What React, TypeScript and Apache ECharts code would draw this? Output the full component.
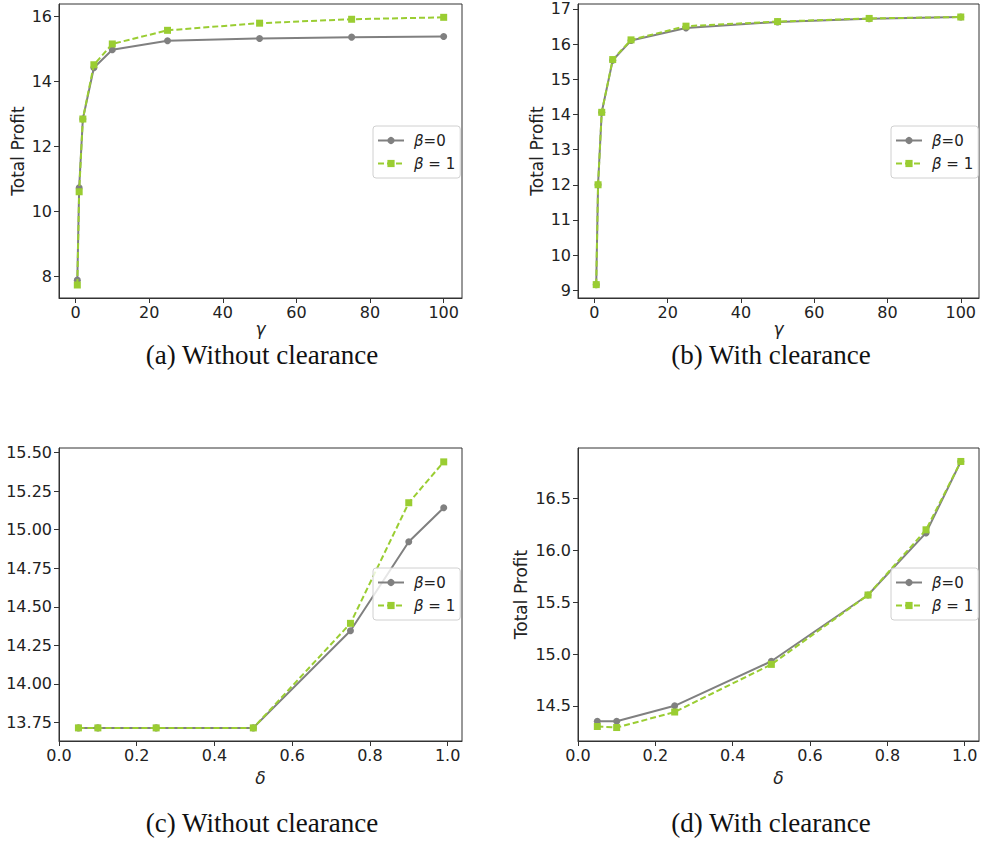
import React, { useEffect, useRef } from 'react';
import * as echarts from 'echarts';

const gammaValues = [0.5, 1, 2, 5, 10, 25, 50, 75, 100];
const deltaValues = [0.05, 0.1, 0.25, 0.5, 0.75, 0.9, 0.99];

const profitA0 = [7.88, 10.72, 12.84, 14.42, 14.97, 15.25, 15.32, 15.36, 15.38];
const profitA1 = [7.73, 10.6, 12.84, 14.51, 15.15, 15.57, 15.79, 15.91, 15.97];
const profitB0 = [9.16, 12.0, 14.06, 15.54, 16.1, 16.46, 16.63, 16.72, 16.77];
const profitB1 = [9.16, 12.0, 14.06, 15.56, 16.12, 16.51, 16.64, 16.73, 16.77];
const profitC0 = [13.715, 13.715, 13.715, 13.715, 14.345, 14.922, 15.143];
const profitC1 = [13.715, 13.715, 13.715, 13.715, 14.393, 15.175, 15.44];
const profitD0 = [14.35, 14.35, 14.5, 14.93, 15.57, 16.17, 16.86];
const profitD1 = [14.3, 14.29, 14.44, 14.9, 15.57, 16.2, 16.86];

const seriesNames = ['β=0', 'β = 1'];
const captions = ['(a) Without clearance', '(b) With clearance', '(c) Without clearance', '(d) With clearance'];
const yTitle = 'Total Profit';
const xTitles = ['γ', 'γ', 'δ', 'δ'];

const GRAY = '#808080';
const GREEN = '#9ACD32';
const TEXT = '#222';
const FONT = 'DejaVu Sans';

type Panel = {
  grid: { left: number; top: number; width: number; height: number };
  xs: number[];
  y0: number[];
  y1: number[];
  xMin: number; xMax: number; xStep: number; xDec: number; showXMin: boolean;
  yMin: number; yMax: number; yStep: number; yDec: number;
  yName: string; yGap: number; xGap: number;
  legend: { left: number; top: number };
  caption: { x: number; y: number };
};

const panels: Panel[] = [
  {
    grid: { left: 59, top: 4, width: 403, height: 294 },
    xs: gammaValues, y0: profitA0, y1: profitA1,
    xMin: -4.475, xMax: 104.975, xStep: 20, xDec: 0, showXMin: false,
    yMin: 7.33, yMax: 16.38, yStep: 2, yDec: 0,
    yName: yTitle, yGap: 33, xGap: 22,
    legend: { left: 373, top: 126 },
    caption: { x: 262, y: 355 },
  },
  {
    grid: { left: 578, top: 4, width: 401, height: 294 },
    xs: gammaValues, y0: profitB0, y1: profitB1,
    xMin: -4.475, xMax: 104.975, xStep: 20, xDec: 0, showXMin: false,
    yMin: 8.78, yMax: 17.14, yStep: 1, yDec: 0,
    yName: yTitle, yGap: 33, xGap: 22,
    legend: { left: 891, top: 126 },
    caption: { x: 771, y: 355 },
  },
  {
    grid: { left: 59, top: 448, width: 403, height: 293 },
    xs: deltaValues, y0: profitC0, y1: profitC1,
    xMin: 0, xMax: 1.037, xStep: 0.2, xDec: 1, showXMin: true,
    yMin: 13.63, yMax: 15.53, yStep: 0.25, yDec: 2,
    yName: '', yGap: 50, xGap: 28,
    legend: { left: 373, top: 568 },
    caption: { x: 262, y: 823 },
  },
  {
    grid: { left: 578, top: 448, width: 401, height: 293 },
    xs: deltaValues, y0: profitD0, y1: profitD1,
    xMin: 0, xMax: 1.037, xStep: 0.2, xDec: 1, showXMin: true,
    yMin: 14.16, yMax: 16.99, yStep: 0.5, yDec: 1,
    yName: yTitle, yGap: 49, xGap: 28,
    legend: { left: 891, top: 568 },
    caption: { x: 771, y: 823 },
  },
];

function buildOption() {
  const grids: any[] = [];
  const xAxes: any[] = [];
  const yAxes: any[] = [];
  const series: any[] = [];
  const legends: any[] = [];
  const graphics: any[] = [];

  panels.forEach((p, i) => {
    grids.push({
      ...p.grid,
      show: true,
      borderColor: '#333',
      borderWidth: 1,
      backgroundColor: '#fff',
      containLabel: false,
    });
    xAxes.push({
      type: 'value',
      gridIndex: i,
      min: p.xMin,
      max: p.xMax,
      minInterval: p.xStep,
      maxInterval: p.xStep,
      splitLine: { show: false },
      axisLine: { show: true, onZero: false, lineStyle: { color: '#333', width: 1 } },
      axisTick: { show: true, length: 5, lineStyle: { color: '#333' } },
      axisLabel: {
        show: true,
        showMinLabel: p.showXMin,
        showMaxLabel: false,
        margin: 6,
        color: TEXT,
        fontFamily: FONT,
        fontSize: 16,
        formatter: (v: number) => v.toFixed(p.xDec),
      },
      name: xTitles[i],
      nameLocation: 'middle',
      nameGap: p.xGap,
      nameTextStyle: { color: TEXT, fontFamily: FONT, fontSize: 17, fontStyle: 'italic' },
    });
    yAxes.push({
      type: 'value',
      gridIndex: i,
      min: p.yMin,
      max: p.yMax,
      minInterval: p.yStep,
      maxInterval: p.yStep,
      splitLine: { show: false },
      axisLine: { show: true, onZero: false, lineStyle: { color: '#333', width: 1 } },
      axisTick: { show: true, length: 5, lineStyle: { color: '#333' } },
      axisLabel: {
        show: true,
        showMinLabel: false,
        showMaxLabel: false,
        margin: 7,
        color: TEXT,
        fontFamily: FONT,
        fontSize: 16,
        formatter: (v: number) => v.toFixed(p.yDec),
      },
      name: p.yName,
      nameLocation: 'middle',
      nameGap: p.yGap,
      nameTextStyle: { color: TEXT, fontFamily: FONT, fontSize: 17 },
    });
    series.push({
      type: 'line',
      name: seriesNames[0],
      xAxisIndex: i,
      yAxisIndex: i,
      data: p.xs.map((x, k) => [x, p.y0[k]]),
      symbol: 'circle',
      symbolSize: 7,
      showSymbol: true,
      lineStyle: { color: GRAY, width: 2, type: 'solid' },
      itemStyle: { color: GRAY },
      z: 2,
    });
    series.push({
      type: 'line',
      name: seriesNames[1],
      xAxisIndex: i,
      yAxisIndex: i,
      data: p.xs.map((x, k) => [x, p.y1[k]]),
      symbol: 'rect',
      symbolSize: 7,
      showSymbol: true,
      lineStyle: { color: GREEN, width: 2, type: [6, 3] },
      itemStyle: { color: GREEN },
      z: 3,
    });
    legends.push({
      data: seriesNames,
      orient: 'vertical',
      left: p.legend.left,
      top: p.legend.top,
      itemWidth: 26,
      itemHeight: 9,
      itemGap: 8,
      padding: [7, 5, 7, 4],
      backgroundColor: 'rgba(255,255,255,0.8)',
      borderColor: '#d0d0d0',
      borderWidth: 1,
      borderRadius: 3,
      selectedMode: false,
      formatter: (name: string) => name.replace('β', '{b|β}'),
      textStyle: {
        color: TEXT,
        fontFamily: FONT,
        fontSize: 15,
        padding: [0, 0, 0, 5],
        rich: { b: { fontStyle: 'italic', fontFamily: FONT, fontSize: 15, color: TEXT } },
      },
      z: 10,
    });
    graphics.push({
      type: 'text',
      x: p.caption.x,
      y: p.caption.y,
      style: {
        text: captions[i],
        font: '27px "Liberation Serif", "Times New Roman", serif',
        fill: '#111',
        textAlign: 'center',
        textVerticalAlign: 'middle',
      },
    });
  });

  return {
    animation: false,
    backgroundColor: '#fff',
    grid: grids,
    xAxis: xAxes,
    yAxis: yAxes,
    series,
    legend: legends,
    graphic: graphics,
  };
}

export default function App() {
  const ref = useRef<HTMLDivElement>(null);
  useEffect(() => {
    if (!ref.current) return;
    const chart = echarts.init(ref.current, undefined, { renderer: 'svg' });
    chart.setOption(buildOption() as any);
    return () => chart.dispose();
  }, []);
  return (
    <div
      ref={ref}
      style={{ position: 'fixed', left: 0, top: 0, width: 982, height: 841, background: '#fff' }}
    />
  );
}
